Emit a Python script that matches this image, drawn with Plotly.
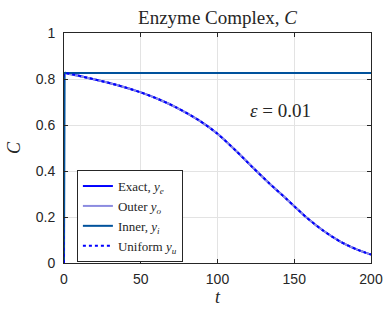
import plotly.graph_objects as go

# Data
t_vals = [0, 0.4, 2, 20, 35, 50, 62, 73, 88, 100, 112, 123, 134, 145, 150, 158, 169, 180, 191, 200]
exact_C = [0, 0.826, 0.825, 0.798, 0.773, 0.742, 0.711, 0.677, 0.620, 0.562, 0.488, 0.415, 0.345, 0.278, 0.247, 0.198, 0.140, 0.093, 0.058, 0.037]
outer_t = [0, 20, 35, 50, 62, 73, 88, 100, 112, 123, 134, 145, 150, 158, 169, 180, 191, 200]
outer_C = [0.826, 0.798, 0.773, 0.742, 0.711, 0.677, 0.620, 0.562, 0.488, 0.415, 0.345, 0.278, 0.247, 0.198, 0.140, 0.093, 0.058, 0.037]
inner_t = [0, 0.4, 200]
inner_C = [0, 0.826, 0.826]
uniform_C = exact_C

x_ticks = [0, 50, 100, 150, 200]
y_ticks = [0, 0.2, 0.4, 0.6, 0.8, 1]
y_tick_labels = ["0", "0.2", "0.4", "0.6", "0.8", "1"]

serif = "Liberation Serif, Times New Roman, serif"
sans = "Liberation Sans, Arial, sans-serif"

fig = go.Figure()
fig.add_trace(go.Scatter(x=t_vals, y=exact_C, mode="lines", name="Exact, <i>y<sub>e</sub></i>",
                         line=dict(color="#0000ff", width=2, shape="spline", smoothing=0.7)))
fig.add_trace(go.Scatter(x=outer_t, y=outer_C, mode="lines", name="Outer <i>y<sub>o</sub></i>",
                         line=dict(color="#8c8ce0", width=2, shape="spline", smoothing=0.7)))
fig.add_trace(go.Scatter(x=inner_t, y=inner_C, mode="lines", name="Inner, <i>y<sub>i</sub></i>",
                         line=dict(color="#00529c", width=2)))
fig.add_trace(go.Scatter(x=t_vals, y=uniform_C, mode="lines", name="Uniform <i>y<sub>u</sub></i>",
                         line=dict(color="#0000ff", width=2, dash="dot", shape="spline", smoothing=0.7)))

axis_common = dict(showline=True, linecolor="#262626", linewidth=1, mirror="ticks",
                   ticks="inside", ticklen=4, tickcolor="#262626", automargin=False,
                   showgrid=True, gridcolor="#e3e3e3", gridwidth=1, zeroline=False,
                   tickfont=dict(family=sans, size=14, color="#262626"))

fig.update_layout(
    width=386, height=310,
    margin=dict(l=64, r=15, t=33, b=47, autoexpand=False),
    plot_bgcolor="white", paper_bgcolor="white",
    title=dict(text="Enzyme Complex, <i>C</i>", x=0.5 * (64 + 371) / 386, xanchor="center",
               y=1 - 17 / 310, yanchor="middle",
               font=dict(family=serif, size=19, color="#262626")),
    xaxis=dict(range=[0, 200], tickvals=x_ticks, ticklabelstandoff=3,
               title=dict(text="<i>t</i>", font=dict(family=serif, size=18, color="#262626"), standoff=2),
               **axis_common),
    yaxis=dict(range=[0, 1], tickvals=y_ticks, ticktext=y_tick_labels, ticklabelstandoff=5,
               title=dict(text="<i>C</i>", font=dict(family=serif, size=18, color="#262626"), standoff=10),
               **axis_common),
    legend=dict(x=0.042, y=0.404, xanchor="left", yanchor="top",
                bgcolor="white", bordercolor="#262626", borderwidth=1,
                font=dict(family=serif, size=13, color="#262626"),
                tracegroupgap=0, itemwidth=30),
    showlegend=True,
)
fig.add_annotation(x=141, y=0.663, xref="x", yref="y", text="<i>ε</i> = 0.01", showarrow=False,
                   font=dict(family=serif, size=19, color="#262626"))

fig.write_html("out.html", config={"displayModeBar": False},
               post_script="document.body.style.margin='0';")
